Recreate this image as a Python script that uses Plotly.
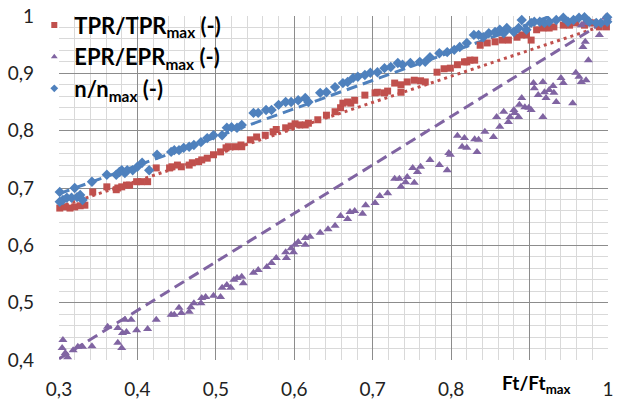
import numpy as np
import plotly.graph_objects as go

# ---------------- data ----------------
tpr_x = [0.301,0.308,0.314,0.320,0.327,0.333,0.343,0.361,0.373,0.375,0.380,0.386,0.390,0.399,0.405,0.413,
         0.424,0.441,0.444,0.451,0.456,0.466,0.470,0.478,0.482,0.489,0.497,0.506,0.513,0.516,0.525,0.532,
         0.533,0.544,0.552,0.563,0.573,0.577,0.589,0.596,0.601,0.607,0.614,0.618,0.630,0.641,0.652,0.659,
         0.662,0.668,0.672,0.677,0.690,0.703,0.706,0.715,0.719,0.728,0.736,0.736,0.744,0.753,0.761,0.767,
         0.782,0.791,0.799,0.808,0.817,0.820,0.824,0.830,0.837,0.846,0.856,0.865,0.873,0.884,0.890,0.896,
         0.902,0.909,0.917,0.925,0.931,0.943,0.951,0.959,0.970,0.976,0.982,0.989,0.998]
tpr_y = [0.665,0.667,0.665,0.667,0.669,0.670,0.693,0.702,0.697,0.700,0.702,0.705,0.705,0.711,0.711,0.711,
         0.735,0.735,0.737,0.740,0.737,0.740,0.744,0.746,0.749,0.752,0.758,0.763,0.770,0.772,0.772,0.775,
         0.772,0.784,0.789,0.792,0.798,0.802,0.805,0.808,0.812,0.810,0.810,0.813,0.819,0.827,0.833,0.840,
         0.848,0.850,0.848,0.853,0.862,0.866,0.867,0.866,0.869,0.883,0.880,0.867,0.885,0.888,0.887,0.885,
         0.902,0.908,0.909,0.915,0.920,0.920,0.923,0.923,0.949,0.953,0.955,0.958,0.958,0.963,0.967,0.967,
         0.958,0.976,0.979,0.979,0.981,0.984,0.984,0.988,0.984,0.988,0.988,0.981,0.981]

epr_x = [0.305,0.304,0.311,0.308,0.318,0.324,0.330,0.342,0.362,0.375,0.375,0.380,0.381,0.386,0.384,0.392,
         0.399,0.413,0.424,0.443,0.447,0.453,0.456,0.466,0.468,0.472,0.481,0.482,0.487,0.497,0.506,0.508,
         0.514,0.519,0.523,0.527,0.533,0.535,0.548,0.554,0.565,0.571,0.577,0.589,0.590,0.596,0.599,0.601,
         0.605,0.614,0.614,0.620,0.633,0.643,0.652,0.659,0.668,0.671,0.677,0.687,0.691,0.703,0.709,0.719,
         0.728,0.734,0.736,0.742,0.744,0.751,0.753,0.757,0.761,0.773,0.785,0.795,0.797,0.799,0.808,0.814,
         0.817,0.820,0.830,0.833,0.835,0.843,0.854,0.858,0.862,0.867,0.873,0.875,0.880,0.881,0.886,0.887,
         0.890,0.894,0.899,0.902,0.905,0.906,0.911,0.917,0.919,0.921,0.917,0.925,0.930,0.931,0.934,0.940,
         0.943,0.955,0.959,0.963,0.966,0.972,0.975,0.968,0.971,0.966,0.970,0.989,0.991,0.997,0.999]
epr_y = [0.435,0.421,0.405,0.412,0.417,0.423,0.423,0.424,0.458,0.456,0.430,0.421,0.447,0.449,0.470,0.470,
         0.452,0.454,0.470,0.479,0.479,0.491,0.482,0.484,0.492,0.499,0.499,0.508,0.510,0.512,0.510,0.526,
         0.531,0.526,0.540,0.543,0.545,0.534,0.552,0.557,0.562,0.569,0.578,0.588,0.578,0.595,0.588,0.601,
         0.606,0.613,0.601,0.615,0.622,0.628,0.634,0.651,0.646,0.658,0.660,0.655,0.670,0.674,0.686,0.691,
         0.716,0.716,0.702,0.710,0.719,0.735,0.709,0.728,0.737,0.749,0.740,0.731,0.761,0.758,0.791,0.772,
         0.787,0.770,0.785,0.763,0.784,0.798,0.789,0.824,0.807,0.833,0.815,0.824,0.836,0.831,0.824,0.845,
         0.857,0.841,0.840,0.836,0.883,0.874,0.862,0.885,0.867,0.857,0.824,0.871,0.878,0.866,0.850,0.892,
         0.883,0.848,0.901,0.894,0.885,0.888,0.923,0.946,0.955,0.984,0.988,0.967,0.988,0.998,0.997]

n_x = [0.301,0.305,0.310,0.316,0.323,0.327,0.330,0.301,0.320,0.342,0.361,0.373,0.377,0.380,0.384,0.387,
       0.394,0.400,0.406,0.415,0.425,0.443,0.447,0.453,0.459,0.466,0.472,0.481,0.489,0.497,0.508,0.514,
       0.520,0.527,0.533,0.548,0.554,0.564,0.571,0.580,0.589,0.596,0.605,0.614,0.618,0.633,0.641,0.652,
       0.662,0.668,0.675,0.681,0.690,0.697,0.706,0.715,0.723,0.732,0.738,0.748,0.760,0.767,0.773,0.785,
       0.795,0.804,0.811,0.820,0.829,0.835,0.841,0.848,0.856,0.862,0.867,0.871,0.880,0.886,0.890,0.896,
       0.902,0.906,0.913,0.919,0.925,0.934,0.943,0.949,0.956,0.963,0.970,0.976,0.985,0.991,0.999,0.999]
n_y = [0.676,0.679,0.683,0.683,0.684,0.688,0.679,0.693,0.700,0.711,0.723,0.723,0.728,0.731,0.726,0.731,
       0.731,0.737,0.744,0.731,0.758,0.763,0.766,0.766,0.770,0.772,0.775,0.780,0.787,0.792,0.792,0.805,
       0.806,0.805,0.810,0.831,0.831,0.836,0.836,0.845,0.850,0.850,0.853,0.857,0.850,0.866,0.867,0.876,
       0.883,0.885,0.892,0.894,0.897,0.901,0.902,0.909,0.911,0.918,0.915,0.918,0.920,0.920,0.928,0.935,
       0.937,0.941,0.946,0.953,0.967,0.967,0.963,0.970,0.972,0.976,0.970,0.979,0.972,0.979,0.993,0.976,
       0.988,0.990,0.990,0.988,0.990,0.993,0.997,0.990,0.993,0.997,0.998,0.990,0.988,0.988,0.990,0.998]

# trendline end values (at x = 0.3 and x = 1.0)
trend_x = [0.3, 1.0]
tpr_trend = [0.667, 0.986]
epr_trend = [0.402, 0.994]
n_trend = [0.690, 1.036]

x_ticks = [0.3, 0.4, 0.5, 0.6, 0.7, 0.8, 0.9, 1.0]
x_labels = ["0,3", "0,4", "0,5", "0,6", "0,7", "0,8", "", "1"]
y_ticks = [0.4, 0.5, 0.6, 0.7, 0.8, 0.9, 1.0]
y_labels = ["0,4", "0,5", "0,6", "0,7", "0,8", "0,9", "1"]

names = ["TPR/TPR<sub>max</sub> (-)", "EPR/EPR<sub>max</sub> (-)", "n/n<sub>max</sub> (-)"]
colors = ["#C0504D", "#8064A2", "#4F81BD"]
symbols = ["square", "triangle-up", "diamond"]
sizes = [7, 8, 8]

FONT = "Lato"
fig = go.Figure()

fig.add_trace(go.Scatter(x=trend_x, y=tpr_trend, mode="lines", showlegend=False, hoverinfo="skip",
                         line=dict(color=colors[0], width=3, dash="3px,4px")))
fig.add_trace(go.Scatter(x=trend_x, y=epr_trend, mode="lines", showlegend=False, hoverinfo="skip",
                         line=dict(color=colors[1], width=3, dash="11px,6px")))
fig.add_trace(go.Scatter(x=trend_x, y=n_trend, mode="lines", showlegend=False, hoverinfo="skip",
                         line=dict(color=colors[2], width=3, dash="11px,6px")))

for xs, ys, sym, sz, c in zip([tpr_x, epr_x, n_x], [tpr_y, epr_y, n_y], symbols, sizes, colors):
    fig.add_trace(go.Scatter(x=xs, y=ys, mode="markers", showlegend=False,
                             marker=dict(symbol=sym, size=sz, color=c, line=dict(width=0)),
                             cliponaxis=False))

# legend entries (small symbols, as in the reference)
for i, (nm, sym, c) in enumerate(zip(names, symbols, colors)):
    fig.add_trace(go.Scatter(x=[None], y=[None], mode="markers", name=nm, legendgroup=str(i),
                             marker=dict(symbol=sym, size=6, color=c)))

fig.add_shape(type="rect", xref="paper", yref="paper", x0=0, x1=0.315, y0=0.765, y1=1.0,
              fillcolor="white", line=dict(width=0), layer="between")

fig.add_annotation(x=0.909, y=-0.070, xref="x", yref="paper", text="<b>Ft/Ft<sub>max</sub></b>",
                   showarrow=False, font=dict(family=FONT, size=19, color="#000000"),
                   yanchor="middle")

axis_common = dict(showline=False, zeroline=False, ticks="", automargin=False,
                   ticklabeloverflow="allow",
                   gridcolor="#8C8C8C", gridwidth=1,
                   tickfont=dict(family=FONT, size=19, color="#222222"))

fig.update_xaxes(range=[0.3, 1.0], tickvals=x_ticks, ticktext=x_labels,
                 minor=dict(dtick=0.02, tick0=0.3, showgrid=True, gridcolor="#D9D9D9", gridwidth=1),
                 ticklabelstandoff=16, **axis_common)
fig.update_yaxes(range=[0.4, 1.0], tickvals=y_ticks, ticktext=y_labels,
                 minor=dict(dtick=0.02, tick0=0.4, showgrid=True, gridcolor="#D9D9D9", gridwidth=1),
                 ticklabelstandoff=24, **axis_common)

fig.update_layout(
    width=617, height=400,
    margin=dict(l=59, r=9, t=16, b=40, autoexpand=False),
    paper_bgcolor="white", plot_bgcolor="white",
    showlegend=True,
    legend=dict(x=-0.045, y=1.034, xanchor="left", yanchor="top", bgcolor="rgba(0,0,0,0)",
                font=dict(family=FONT, size=22, color="#000000", weight="bold"),
                tracegroupgap=0, itemsizing="trace"),
)

fig.write_html("out.html", config={"displayModeBar": False},
               post_script="document.body.style.margin='0';")
